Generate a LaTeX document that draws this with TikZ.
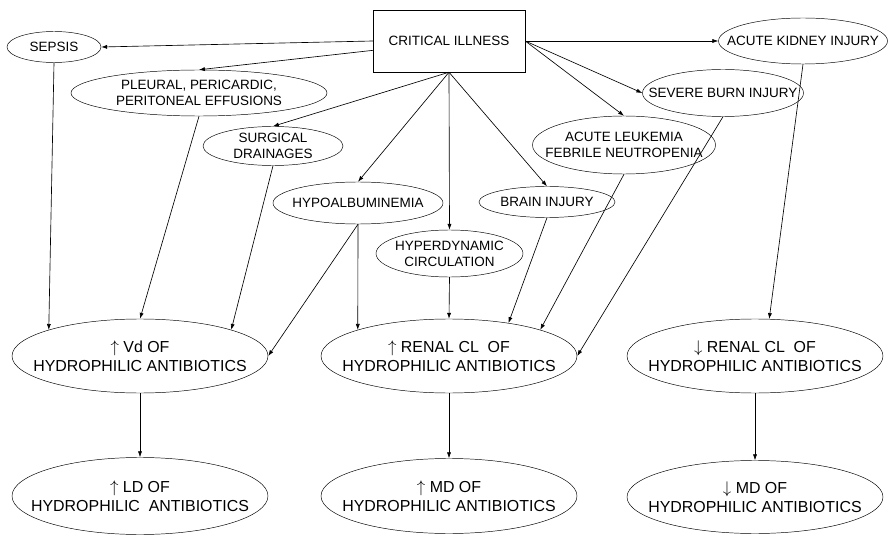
\documentclass[tikz,border=0pt]{standalone}
\usepackage{fontspec}
\setmainfont{Liberation Sans}
\usepackage{tikz}
\usetikzlibrary{shapes.geometric, arrows.meta, positioning}

\begin{document}
\begin{tikzpicture}[
    x=0.03cm, y=-0.03cm,
    cause/.style={ellipse, draw, inner xsep=-40pt, inner ysep=-10pt, align=center, font=\fontsize{11.5}{13.6}\selectfont},
    effect/.style={ellipse, draw, inner xsep=-40pt, inner ysep=-10pt, minimum width=256*0.03cm, align=center, font=\fontsize{13.6}{16.2}\selectfont},
    root/.style={rectangle, draw, minimum width=152*0.03cm, minimum height=62*0.03cm, font=\fontsize{11.5}{13.6}\selectfont},
    arrow/.style={-{Latex[length=5pt,width=3.5pt]}, line width=0.55pt}
]
\useasboundingbox (0,0) rectangle (891,536);

% Critical illness
\node[root] (crit) at (449,41) {CRITICAL ILLNESS};

% Conditions
\node[cause, minimum width=94*0.03cm, minimum height=31*0.03cm] (sepsis) at (54,47) {SEPSIS};
\node[cause, minimum width=256*0.03cm, minimum height=46*0.03cm] (effusion) at (199,93) {PLEURAL, PERICARDIC,\\PERITONEAL EFFUSIONS};
\node[cause, minimum width=140*0.03cm, minimum height=39*0.03cm] (drain) at (273,146) {SURGICAL\\DRAINAGES};
\node[cause, minimum width=170*0.03cm, minimum height=42*0.03cm] (hypoalb) at (358,203) {HYPOALBUMINEMIA};
\node[cause, minimum width=147*0.03cm, minimum height=47*0.03cm] (hyperdyn) at (449.5,253.5) {HYPERDYNAMIC\\CIRCULATION};
\node[cause, minimum width=136*0.03cm, minimum height=31*0.03cm] (brain) at (547,202) {BRAIN INJURY};
\node[cause, minimum width=183*0.03cm, minimum height=58*0.03cm] (leuk) at (624,145) {ACUTE LEUKEMIA\\FEBRILE NEUTROPENIA};
\node[cause, minimum width=161*0.03cm, minimum height=47*0.03cm] (burn) at (723,93) {SEVERE BURN INJURY};
\node[cause, minimum width=169*0.03cm, minimum height=46*0.03cm] (aki) at (803,41) {ACUTE KIDNEY INJURY};

% Pharmacokinetic changes
\node[effect, minimum height=74*0.03cm] (vd) at (140,356) {$\uparrow$ Vd OF\\HYDROPHILIC ANTIBIOTICS};
\node[effect, minimum height=74*0.03cm] (clup) at (449,356) {$\uparrow$ RENAL CL\ \ OF\\HYDROPHILIC ANTIBIOTICS};
\node[effect, minimum height=74*0.03cm] (cldown) at (755,356) {$\downarrow$ RENAL CL\ \ OF\\HYDROPHILIC ANTIBIOTICS};

% Dosing
\node[effect, minimum height=77*0.03cm] (ld) at (140,496) {$\uparrow$ LD OF\\HYDROPHILIC\ \ ANTIBIOTICS};
\node[effect, minimum height=75*0.03cm] (mdup) at (449,496) {$\uparrow$ MD OF\\HYDROPHILIC ANTIBIOTICS};
\node[effect, minimum height=73*0.03cm] (mddown) at (755,497) {$\downarrow$ MD OF\\HYDROPHILIC ANTIBIOTICS};

% Connections
\draw[arrow] (crit.west) -- (sepsis.east);
\draw[arrow] (crit.187) -- (effusion.north);
\draw[arrow] (crit.south) -- (drain.north);
\draw[arrow] (crit.south) -- (hypoalb.north);
\draw[arrow] (crit.south) -- (hyperdyn.north);
\draw[arrow] (crit.south) -- (brain.north);
\draw[arrow] (crit.east) -- (leuk.north);
\draw[arrow] (crit.east) -- (burn.west);
\draw[arrow] (crit.east) -- (aki.west);

\draw[arrow] (sepsis.south) -- (vd.164);
\draw[arrow] (effusion.south) -- (vd.north);
\draw[arrow] (drain.south) -- (vd.16);
\draw[arrow] (hypoalb.south) -- (vd.east);

\draw[arrow] (hypoalb.south) -- (clup.164);
\draw[arrow] (hyperdyn.south) -- (clup.north);
\draw[arrow] (brain.south) -- (clup.29);
\draw[arrow] (leuk.south) -- (clup.16);
\draw[arrow] (burn.south) -- (clup.east);

\draw[arrow] (aki.south) -- (cldown.69);

\draw[arrow] (vd) -- (ld);
\draw[arrow] (clup) -- (mdup);
\draw[arrow] (cldown) -- (mddown);

\end{tikzpicture}
\end{document}
